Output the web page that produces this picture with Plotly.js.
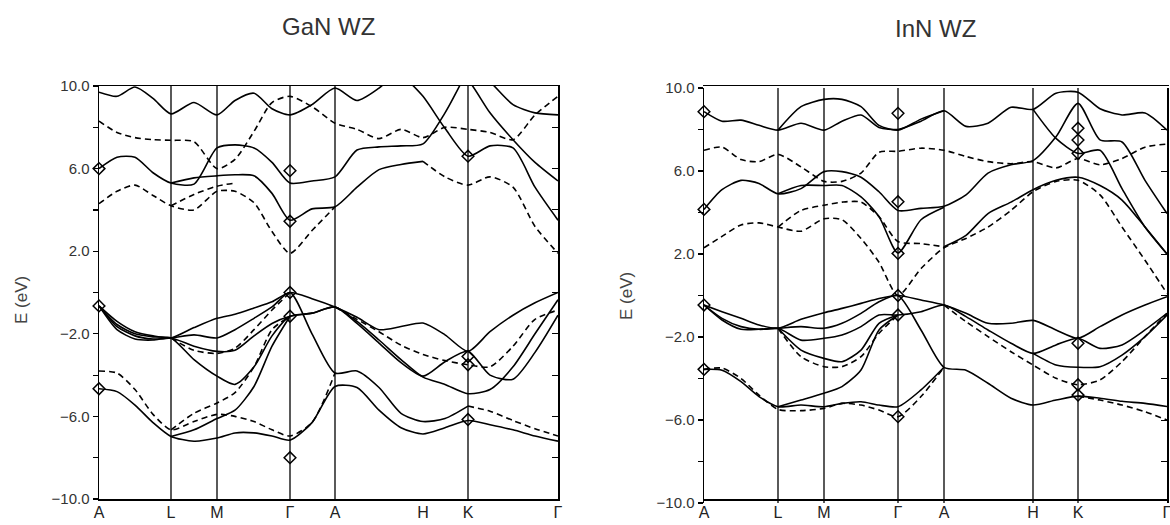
<!DOCTYPE html>
<html><head><meta charset="utf-8">
<script src="https://cdn.plot.ly/plotly-3.0.1.min.js"></script>
<style>html,body{margin:0;padding:0;background:#fff}#chart{width:1170px;height:525px}</style>
</head><body><div id="chart"></div>
<script>
const n = null;

// ---------- GaN WZ ----------
const ganTitle = 'GaN WZ';
const ganLabels = ['A','L','M','Γ','A','H','K','Γ'];
const ganKpts = [0,72,118,191,236,324,369,459];
const ganLineIdx = [1,2,3,4,6];
const ganK = [0,18,36,54,72,95,118,136,155,173,191,213,236,258,280,302,324,346,369,391,414,436,459];

// conduction, solid
const gS1 = [9.7,9.5,9.95,9.4,8.65,9.2,8.6,9.3,9.65,8.9,8.6,9.1,9.9,9.3,9.9,10.8,11.2,11.2,11.0,10.2,9.1,8.7,8.6];
const gS2 = [n,n,n,n,n,n,n,n,n,n,n,n,n,n,n,10.6,9.5,7.95,6.6,7.1,7.0,5.1,3.5];
const gS3 = [6.0,6.55,6.55,5.8,5.3,5.25,7.0,7.15,7.0,6.3,5.3,5.4,5.6,6.9,7.05,7.1,7.2,8.7,10.8,n,n,n,n];
const gS3b = [n,n,n,n,n,n,n,n,n,n,n,n,n,n,n,n,n,11.2,10.3,8.7,7.4,6.3,5.4];
const gS4 = [n,n,n,n,5.3,5.55,5.65,5.7,5.65,4.8,3.5,4.05,4.15,5.1,5.95,6.2,6.35,n,n,n,n,n,n];
// conduction, dashed
const gD1 = [4.3,4.9,5.2,4.7,4.2,4.0,4.9,4.9,4.35,2.95,1.9,3.0,4.15,n,n,n,n,n,n,n,n,n,n];
const gD2 = [n,n,n,n,4.2,4.75,5.15,5.3,n,n,n,n,n,n,n,n,n,n,n,n,n,n,n];
const gD3 = [8.3,7.75,7.5,7.4,7.37,7.3,6.0,6.45,7.8,9.2,9.5,9.0,8.2,7.9,7.45,7.9,7.5,8.0,7.9,7.75,7.4,8.6,9.5];
const gD4 = [n,n,n,n,n,n,n,n,n,n,n,n,n,n,n,n,6.35,5.6,5.2,5.6,5.1,3.2,1.9];
// valence, solid
const gV1 = [-0.65,-1.4,-1.9,-2.1,-2.2,-1.7,-1.25,-1.05,-0.75,-0.45,0.0,-0.3,-0.7,-1.2,-1.8,-1.65,-1.48,-2.05,-2.85,-1.9,-1.1,-0.5,0.0];
const gV2 = [-0.65,-1.65,-2.1,-2.25,-2.2,-2.05,-2.2,-1.8,-1.25,-0.7,0.0,-2.0,-3.9,-3.8,-4.6,-5.85,-6.25,-6.1,-5.5,n,n,n,n];
const gV3 = [-0.65,-1.8,-2.25,-2.3,-2.2,-2.6,-2.85,-2.8,-2.1,-1.5,-1.15,-1.0,-0.7,-1.5,-2.45,-3.4,-4.05,-3.35,-2.85,-4.0,-4.2,-2.9,-1.1];
const gV4 = [-0.65,-1.55,-2.0,-2.15,-2.2,-3.25,-4.05,-4.45,-3.6,-2.1,-1.15,-1.0,-0.7,-1.4,-2.3,-3.25,-4.1,-4.45,-4.9,-4.7,-3.6,-2.0,-0.35];
const gV5 = [-4.66,-4.8,-5.45,-6.3,-6.97,-7.2,-7.05,-6.8,-6.8,-6.95,-7.15,-6.3,-4.55,-4.6,-5.7,-6.55,-6.85,-6.55,-6.2,-6.4,-6.65,-6.95,-7.2];
const gV6 = [n,n,n,n,-6.97,-6.65,-6.1,-5.7,-4.55,-2.6,-1.15,n,n,n,n,n,n,n,n,n,n,n,n];
// valence, dashed
const gVD1 = [-3.8,-3.9,-4.7,-5.9,-6.65,-6.25,-5.9,-6.0,-6.25,-6.65,-6.95,-6.3,-3.9,n,n,n,n,n,n,n,n,n,n];
const gVD2 = [n,n,n,n,-6.65,-5.85,-5.35,-4.85,-3.6,-1.8,-1.15,n,n,n,n,n,n,n,n,n,n,n,n];
const gVD3 = [n,n,n,n,-2.2,-2.8,-2.95,-2.7,-1.8,-0.85,0.0,n,n,n,n,n,n,n,n,n,n,n,n];
const gVD4 = [n,n,n,n,n,n,n,n,n,n,n,n,-0.7,-1.3,-1.9,-2.55,-3.0,-3.3,-3.5,-3.6,-2.6,-1.3,-0.85];
const gVD5 = [n,n,n,n,n,n,n,n,n,n,n,n,n,n,n,n,n,n,-5.5,-5.75,-6.2,-6.6,-6.95];
const ganMarkIdx = [0,0,0,3,3,3,3,3,6,6,6,6];
const ganMarkE = [6.0,-0.65,-4.66,5.9,3.45,0.0,-1.15,-8.0,6.6,-3.1,-3.5,-6.15];

// ---------- InN WZ ----------
const innTitle = 'InN WZ';
const innLabels = ['A','L','M','Γ','A','H','K','Γ'];
const innKpts = [0,74,120,194,240,329,374,463];
const innLineIdx = [1,2,3,4,5,6];
const innK = [0,18,37,55,74,97,120,138,157,175,194,217,240,262,284,307,329,352,374,396,418,441,463];

const nS1 = [8.86,8.4,8.45,8.2,7.97,8.3,7.97,8.4,8.7,8.1,8.0,8.4,8.9,8.15,8.3,9.07,8.97,9.75,9.8,9.0,8.7,8.8,7.97];
const nS2 = [n,n,n,n,7.97,9.1,9.45,9.45,9.1,8.2,7.97,8.5,8.9,n,n,n,n,n,n,n,n,n,n];
const nS3 = [4.15,5.1,5.55,5.4,4.9,5.15,5.97,5.97,5.7,5.0,4.1,4.2,4.3,4.85,5.9,6.3,6.5,7.65,9.26,7.5,7.4,5.55,3.95];
const nS4 = [n,n,n,n,4.9,5.3,5.3,5.3,4.75,3.8,2.05,3.65,4.25,n,n,n,n,n,n,n,n,n,n];
const nS5 = [n,n,n,n,n,n,n,n,n,n,n,n,2.35,2.9,3.95,4.5,5.1,5.55,5.7,5.3,4.6,3.3,2.0];
const nS6 = [n,n,n,n,n,n,n,n,n,n,n,n,n,n,n,n,8.97,7.57,6.85,7.0,5.15,3.3,2.0];
const nD1 = [7.0,7.15,6.55,6.45,6.8,6.2,5.5,5.5,5.9,6.9,6.95,7.1,7.0,6.7,6.45,6.35,6.45,6.15,6.6,6.3,6.6,7.15,7.3];
const nD2 = [2.3,2.85,3.4,3.5,3.3,3.1,3.7,3.65,2.75,1.6,0.0,1.3,2.3,2.75,3.3,4.1,5.0,5.5,5.55,4.85,3.3,1.7,0.1];
const nD3 = [n,n,n,n,3.3,4.1,4.35,4.5,4.5,3.8,2.6,2.5,2.35,n,n,n,n,n,n,n,n,n,n];
const nV1 = [-0.46,-0.78,-1.1,-1.42,-1.58,-1.15,-0.83,-0.62,-0.38,-0.14,0.0,-0.22,-0.46,-0.86,-1.34,-1.34,-1.2,-1.66,-2.06,-1.5,-0.94,-0.46,-0.06];
const nV2 = [-0.46,-1.1,-1.5,-1.63,-1.58,-1.5,-1.58,-1.34,-0.86,-0.3,0.0,-1.66,-3.46,-3.6,-4.23,-4.95,-5.28,-5.04,-4.85,-4.95,-5.1,-5.2,-5.35];
const nV3 = [-0.46,-1.18,-1.63,-1.63,-1.58,-2.15,-2.06,-1.9,-1.5,-0.94,-0.94,-0.78,-0.46,-1.02,-1.66,-2.3,-2.79,-2.38,-2.06,-2.55,-2.38,-1.66,-0.86];
const nV4 = [n,n,n,n,-1.58,-2.63,-3.03,-3.19,-2.63,-1.34,-0.94,n,n,n,n,n,-2.79,-3.35,-3.46,-3.43,-2.87,-1.98,-0.94];
const nV5 = [-3.56,-3.6,-4.15,-4.87,-5.36,-5.28,-5.36,-5.2,-5.12,-5.28,-5.36,-4.55,-3.46,n,n,n,n,n,n,n,n,n,n];
const nV6 = [n,n,n,n,-5.36,-5.04,-4.71,-4.39,-3.59,-1.66,-0.94,n,n,n,n,n,n,n,n,n,n,n,n];
const nVD1 = [n,n,n,n,-1.58,-2.95,-3.43,-3.43,-2.95,-1.82,-0.94,n,n,n,n,n,n,n,n,n,n,n,n];
const nVD2 = [-3.56,-3.5,-4.0,-4.8,-5.49,-5.55,-5.44,-5.2,-5.28,-5.52,-5.84,-4.87,-3.46,n,n,n,n,n,n,n,n,n,n];
const nVD3 = [n,n,n,n,n,n,n,n,n,n,n,n,-0.46,-1.26,-1.98,-2.71,-3.35,-3.99,-4.3,-4.07,-3.19,-1.98,-0.86];
const nVD4 = [n,n,n,n,n,n,n,n,n,n,n,n,n,n,n,n,n,n,-4.85,-5.04,-5.28,-5.6,-6.0];
const innMarkIdx = [0,0,0,0,3,3,3,3,3,3,6,6,6,6,6,6];
const innMarkE = [8.86,4.15,-0.46,-3.56,8.78,4.52,2.03,0.0,-0.94,-5.84,8.06,7.49,6.85,-2.3,-4.3,-4.8];

const yLabel = 'E (eV)';

// ---------- build ----------
function band(k, e, dashed, xa, ya){
  return {x:k, y:e, xaxis:xa, yaxis:ya, type:'scatter', mode:'lines',
    line:{color:'#000', width:1.6, dash: dashed ? '6px,4px' : 'solid', shape:'spline', smoothing:0.7},
    connectgaps:false, hoverinfo:'skip', showlegend:false};
}
function marks(kpts, idx, e, xa, ya){
  return {x: idx.map(i=>kpts[i]), y:e, xaxis:xa, yaxis:ya, type:'scatter', mode:'markers',
    marker:{symbol:'diamond-open', size:9, color:'#000', line:{width:1.5, color:'#000'}},
    cliponaxis:false, hoverinfo:'skip', showlegend:false};
}
const traces = [];
[[gS1,0],[gS2,0],[gS3,0],[gS3b,0],[gS4,0],[gD1,1],[gD2,1],[gD3,1],[gD4,1],
 [gV1,0],[gV2,0],[gV3,0],[gV4,0],[gV5,0],[gV6,0],[gVD1,1],[gVD2,1],[gVD3,1],[gVD4,1],[gVD5,1]]
 .forEach(([e,d])=>traces.push(band(ganK,e,d,'x','y')));
traces.push(marks(ganKpts, ganMarkIdx, ganMarkE, 'x','y'));
[[nS1,0],[nS2,0],[nS3,0],[nS4,0],[nS5,0],[nS6,0],[nD1,1],[nD2,1],[nD3,1],
 [nV1,0],[nV2,0],[nV3,0],[nV4,0],[nV5,0],[nV6,0],[nVD1,1],[nVD2,1],[nVD3,1],[nVD4,1]]
 .forEach(([e,d])=>traces.push(band(innK,e,d,'x2','y2')));
traces.push(marks(innKpts, innMarkIdx, innMarkE, 'x2','y2'));

const shapes = [];
ganLineIdx.forEach(i=>shapes.push({type:'line', xref:'x', yref:'y domain', x0:ganKpts[i], x1:ganKpts[i], y0:0, y1:1, layer:'below', line:{color:'#000', width:1.3}}));
innLineIdx.forEach(i=>shapes.push({type:'line', xref:'x2', yref:'y2 domain', x0:innKpts[i], x1:innKpts[i], y0:0, y1:1, layer:'below', line:{color:'#000', width:1.3}}));

const W = 1170, H = 525;
const tickFont = {family:'Liberation Sans, Arial, sans-serif', size:15, color:'#333'};
const xFont = {family:'Liberation Sans, Arial, sans-serif', size:16, color:'#222'};
function xax(dom, kpts, labels){
  return {domain:dom, range:[kpts[0], kpts[kpts.length-1]], tickmode:'array', tickvals:kpts, ticktext:labels,
    ticks:'', showgrid:false, zeroline:false, showline:true, mirror:true, linecolor:'#000', linewidth:1.5,
    tickfont:xFont, ticklabelstandoff:-2, ticklabeloverflow:'allow', automargin:false, fixedrange:true};
}
function yax(dom, anchor){
  return {domain:dom, anchor:anchor, range:[-10,10], tick0:-10, dtick:4, tickformat:'.1f',
    ticks:'outside', ticklen:5, tickwidth:1.2, tickcolor:'#000',
    minor:{dtick:2, ticks:'outside', ticklen:5, tickwidth:1.2, tickcolor:'#000', showgrid:false},
    showgrid:false, zeroline:false, showline:true, mirror:true, linecolor:'#000', linewidth:1.5,
    tickfont:tickFont, ticklabeloverflow:'allow', automargin:false, fixedrange:true};
}
const titleFont = {family:'Liberation Sans Narrow, Liberation Sans, Arial, sans-serif', size:24, color:'#333'};
const layout = {
  width:W, height:H, margin:{l:0,r:0,t:0,b:0}, paper_bgcolor:'#fff', plot_bgcolor:'#fff',
  showlegend:false,
  xaxis: xax([99/W, 558/W], ganKpts, ganLabels),
  yaxis: yax([1-499/H, 1-86/H], 'x'),
  xaxis2: xax([704/W, 1167/W], innKpts, innLabels),
  yaxis2: yax([1-503/H, 1-88/H], 'x2'),
  yaxis3: {overlaying:'y', side:'right', anchor:'x', range:[-10,10], tick0:-10, dtick:2, ticks:'inside', ticklen:6, tickcolor:'#000', showticklabels:false, showgrid:false, zeroline:false, showline:false, fixedrange:true},
  yaxis4: {overlaying:'y2', side:'right', anchor:'x2', range:[-10,10], tick0:-10, dtick:2, ticks:'inside', ticklen:6, tickcolor:'#000', showticklabels:false, showgrid:false, zeroline:false, showline:false, fixedrange:true},
  shapes: shapes,
  annotations: [
    {text:ganTitle, xref:'paper', yref:'paper', x:328/W, y:1-27/H, showarrow:false, xanchor:'center', yanchor:'middle', font:titleFont},
    {text:innTitle, xref:'paper', yref:'paper', x:935/W, y:1-29/H, showarrow:false, xanchor:'center', yanchor:'middle', font:titleFont},
    {text:yLabel, xref:'paper', yref:'paper', x:21/W, y:1-300/H, showarrow:false, textangle:-90, xanchor:'center', yanchor:'middle',
     font:{family:'Liberation Sans, Arial, sans-serif', size:17, color:'#444'}},
    {text:yLabel, xref:'paper', yref:'paper', x:626/W, y:1-296/H, showarrow:false, textangle:-90, xanchor:'center', yanchor:'middle',
     font:{family:'Liberation Sans, Arial, sans-serif', size:17, color:'#444'}}
  ]
};
traces.push({x:[], y:[], xaxis:'x', yaxis:'y3', type:'scatter', mode:'lines', showlegend:false, hoverinfo:'skip'});
traces.push({x:[], y:[], xaxis:'x2', yaxis:'y4', type:'scatter', mode:'lines', showlegend:false, hoverinfo:'skip'});
Plotly.newPlot('chart', traces, layout, {staticPlot:true, displayModeBar:false});
</script></body></html>
